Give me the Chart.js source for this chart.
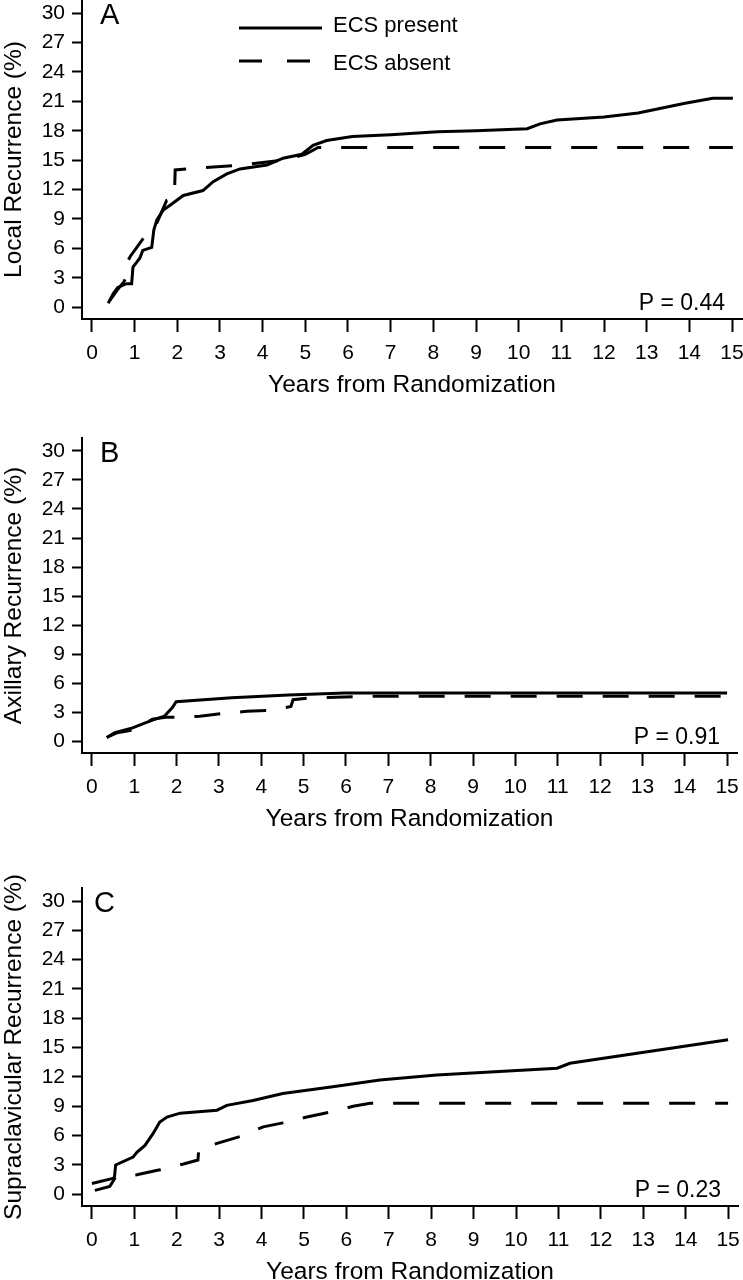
<!DOCTYPE html>
<html>
<head>
<meta charset="utf-8">
<script src="https://cdn.jsdelivr.net/npm/chart.js@4.4.0/dist/chart.umd.min.js"></script>
<style>
  html, body { margin: 0; padding: 0; background: #fff; width: 743px; height: 1280px; overflow: hidden; }
  canvas { position: absolute; left: 0; }
</style>
</head>
<body>
<canvas id="panelA" width="743" height="400" style="top:0px"></canvas>
<canvas id="panelB" width="743" height="434" style="top:400px"></canvas>
<canvas id="panelC" width="743" height="453" style="top:834px"></canvas>
<script>
// tick labels
const xTicks = [0, 1, 2, 3, 4, 5, 6, 7, 8, 9, 10, 11, 12, 13, 14, 15];
const yTicks = [0, 3, 6, 9, 12, 15, 18, 21, 24, 27, 30];
const xTitle = 'Years from Randomization';
const seriesNames = ['ECS present', 'ECS absent'];

// panel text
const panelLabels = ['A', 'B', 'C'];
const yTitles = ['Local Recurrence (%)', 'Axillary Recurrence (%)', 'Supraclavicular Recurrence (%)'];
const pValues = ['P = 0.44', 'P = 0.91', 'P = 0.23'];

// A: local recurrence
const localPresentYears = [0.38, 0.5, 0.6, 0.75, 0.82, 0.93, 0.96, 1.05, 1.12, 1.19, 1.4, 1.45, 1.52, 1.67, 1.83, 2.14, 2.6, 2.84, 3.16, 3.47, 4.1, 4.48, 4.92, 5.18, 5.5, 6.1, 7.0, 8.1, 9.0, 10.2, 10.5, 10.9, 12.0, 12.8, 13.9, 14.55, 15.02];
const localPresentPct   = [0.4, 1.4, 2.0, 2.3, 2.4, 2.4, 4.1, 4.6, 5.0, 5.8, 6.1, 7.9, 8.9, 9.9, 10.4, 11.4, 11.9, 12.8, 13.6, 14.1, 14.5, 15.2, 15.6, 16.5, 17.0, 17.4, 17.6, 17.9, 18.0, 18.2, 18.7, 19.1, 19.4, 19.8, 20.8, 21.3, 21.3];
const localAbsentYears  = [0.42, 0.6, 0.75, 0.8, 0.85, 0.9, 1.25, 1.5, 1.75, 1.93, 1.95, 2.5, 3.5, 4.5, 5.0, 5.3, 15.02];
const localAbsentPct    = [0.7, 1.8, 2.6, 3.1, 4.8, 5.2, 7.3, 8.4, 10.9, 11.2, 14.0, 14.2, 14.5, 15.0, 15.6, 16.3, 16.3];

// B: axillary recurrence
const axPresentYears = [0.35, 0.54, 0.96, 1.2, 1.43, 1.71, 1.9, 1.99, 3.3, 4.64, 5.97, 15.0];
const axPresentPct   = [0.4, 0.9, 1.4, 1.8, 2.2, 2.6, 3.5, 4.1, 4.5, 4.8, 5.0, 5.0];
const axAbsentYears  = [0.35, 0.6, 1.0, 1.43, 1.75, 1.99, 2.55, 3.1, 3.66, 4.2, 4.7, 4.75, 5.2, 6.45, 15.0];
const axAbsentPct    = [0.4, 0.9, 1.2, 2.3, 2.5, 2.5, 2.6, 2.9, 3.1, 3.2, 3.6, 4.3, 4.5, 4.65, 4.65];

// C: supraclavicular recurrence
const scPresentYears = [0.0, 0.47, 0.53, 0.56, 0.97, 1.06, 1.25, 1.44, 1.6, 1.77, 2.08, 2.95, 3.18, 3.8, 4.5, 5.68, 6.79, 8.13, 10.97, 11.27, 15.0];
const scPresentPct   = [1.1, 1.6, 1.7, 3.0, 3.8, 4.3, 5.0, 6.2, 7.4, 7.9, 8.3, 8.6, 9.1, 9.6, 10.3, 11.0, 11.7, 12.2, 12.9, 13.4, 15.8];
const scAbsentYears  = [0.07, 0.42, 0.55, 1.06, 1.6, 2.16, 2.5, 2.52, 2.95, 3.49, 4.04, 4.5, 5.07, 5.61, 6.16, 6.56, 15.0];
const scAbsentPct    = [0.4, 0.8, 1.7, 2.0, 2.5, 3.1, 3.5, 4.6, 5.2, 5.9, 6.9, 7.3, 7.9, 8.4, 9.0, 9.3, 9.3];

const FONT = '"Liberation Sans", Arial, sans-serif';

function toPoints(xs, ys) { return xs.map((x, i) => ({ x: x, y: ys[i] })); }

// panel letter, p-value and (for A) the legend
const panelDecor = {
    id: 'panelDecor',
    afterDraw(chart, args, opts) {
        const { ctx, chartArea: a } = chart;
        ctx.save();
        ctx.fillStyle = '#000';
        ctx.textBaseline = 'alphabetic';
        ctx.font = '29px ' + FONT;
        ctx.textAlign = 'left';
        ctx.fillText(opts.label, a.left + opts.labelDx, a.top + 24);
        ctx.font = '23px ' + FONT;
        ctx.textAlign = 'right';
        ctx.fillText(opts.pText, a.right - 17, a.bottom - 9);
        if (opts.legend) {
            const rows = [28, 61];
            chart.data.datasets.forEach((ds, i) => {
                ctx.strokeStyle = ds.borderColor;
                ctx.lineWidth = ds.borderWidth;
                ctx.setLineDash(i === 1 ? [23, 25] : []);
                ctx.beginPath();
                ctx.moveTo(239, rows[i]);
                ctx.lineTo(322, rows[i]);
                ctx.stroke();
                ctx.setLineDash([]);
                ctx.font = '22px ' + FONT;
                ctx.textAlign = 'left';
                ctx.fillText(ds.label, 333, rows[i] + (i === 0 ? 4 : 9));
            });
        }
        ctx.restore();
    }
};

function makePanel(id, idx, present, absent, padTop, padRight, labelDx) {
    return new Chart(document.getElementById(id), {
        type: 'line',
        data: {
            datasets: [
                { label: seriesNames[0], data: present, borderColor: '#000', borderWidth: 3, pointRadius: 0, tension: 0, fill: false },
                { label: seriesNames[1], data: absent, borderColor: '#000', borderWidth: 3, borderDash: [26, 20], pointRadius: 0, tension: 0, fill: false }
            ]
        },
        options: {
            responsive: false,
            animation: false,
            layout: { padding: { top: padTop, right: padRight, left: 0, bottom: 0 } },
            plugins: {
                legend: { display: false },
                tooltip: { enabled: false },
                panelDecor: { label: panelLabels[idx], pText: pValues[idx], legend: idx === 0, labelDx: labelDx }
            },
            scales: {
                x: {
                    type: 'linear',
                    min: -0.234,
                    max: 15.234,
                    afterBuildTicks: s => { s.ticks = xTicks.map(v => ({ value: v })); },
                    afterFit: s => { s.height = 81; s.paddingLeft = 0; s.paddingRight = 0; },
                    border: { display: true, color: '#000', width: 2 },
                    grid: { drawOnChartArea: false, drawTicks: true, tickLength: 13, tickWidth: 2, tickColor: '#000', color: '#000' },
                    ticks: { color: '#000', font: { family: FONT, size: 21 }, padding: 9, maxRotation: 0, autoSkip: false, callback: v => String(v) },
                    title: { display: true, text: xTitle, color: '#000', font: { family: FONT, size: 24.5 }, padding: { top: 0, bottom: 0 } }
                },
                y: {
                    type: 'linear',
                    min: -1.2,
                    max: 31.33,
                    afterBuildTicks: s => { s.ticks = yTicks.map(v => ({ value: v })); },
                    afterFit: s => { s.width = 82; s.paddingTop = 0; s.paddingBottom = 0; },
                    border: { display: true, color: '#000', width: 2 },
                    grid: { drawOnChartArea: false, drawTicks: true, tickLength: 10, tickWidth: 2, tickColor: '#000', color: '#000' },
                    ticks: { color: '#000', font: { family: FONT, size: 21 }, padding: 7, autoSkip: false, callback: v => String(v) },
                    title: { display: true, text: yTitles[idx], color: '#000', font: { family: FONT, size: 24.5 }, padding: { top: 0, bottom: 0 } }
                }
            }
        },
        plugins: [panelDecor]
    });
}

makePanel('panelA', 0, toPoints(localPresentYears, localPresentPct), toPoints(localAbsentYears, localAbsentPct), 0, 1, 18);
makePanel('panelB', 1, toPoints(axPresentYears, axPresentPct), toPoints(axAbsentYears, axAbsentPct), 38, 6, 18);
makePanel('panelC', 2, toPoints(scPresentYears, scPresentPct), toPoints(scAbsentYears, scAbsentPct), 54, 5, 12);
</script>
</body>
</html>
